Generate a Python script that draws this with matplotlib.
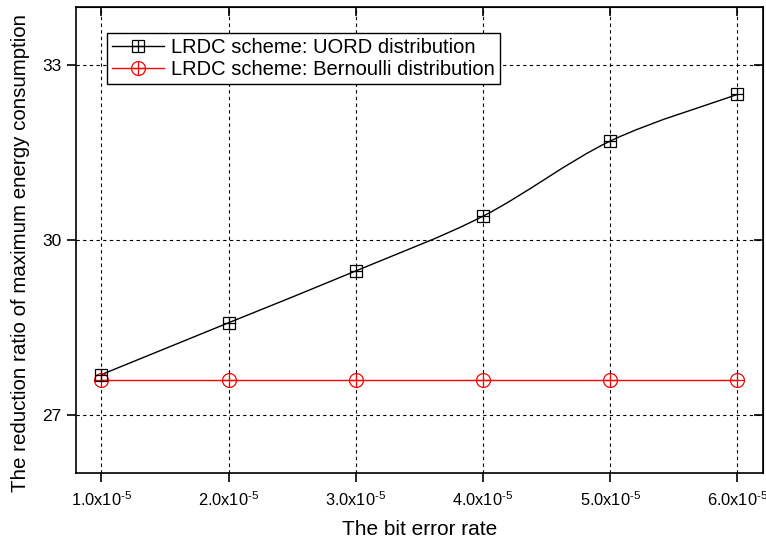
import matplotlib
matplotlib.use("Agg")
import matplotlib.pyplot as plt
from matplotlib.path import Path
from matplotlib.patches import PathPatch
from matplotlib.lines import Line2D
from matplotlib.legend_handler import HandlerTuple

plt.rcParams["font.family"] = ["Liberation Sans", "DejaVu Sans"]
plt.rcParams["mathtext.fontset"] = "custom"
plt.rcParams["mathtext.rm"] = "Liberation Sans"
plt.rcParams["mathtext.it"] = "Liberation Sans:italic"

# ============================================================
# === Data
# ============================================================

ber = [1e-5, 2e-5, 3e-5, 4e-5, 5e-5, 6e-5]
uord = [27.69, 28.58, 29.47, 30.41, 31.70, 32.50]
bernoulli = [27.60, 27.60, 27.60, 27.60, 27.60, 27.60]

x_tick_labels = ["1.0x10$^{\u20105}$", "2.0x10$^{\u20105}$", "3.0x10$^{\u20105}$",
                 "4.0x10$^{\u20105}$", "5.0x10$^{\u20105}$", "6.0x10$^{\u20105}$"]
y_ticks = [27, 30, 33]

label_uord = "LRDC scheme: UORD distribution"
label_bern = "LRDC scheme: Bernoulli distribution"


def smooth_path(xs, ys):
    # Catmull-Rom segments turned into cubic Bezier pieces
    pts = list(zip(xs, ys))
    n = len(pts)
    verts = [pts[0]]
    codes = [Path.MOVETO]
    for i in range(n - 1):
        p0 = pts[max(i - 1, 0)]
        p1 = pts[i]
        p2 = pts[i + 1]
        p3 = pts[min(i + 2, n - 1)]
        c1 = (p1[0] + (p2[0] - p0[0]) / 6, p1[1] + (p2[1] - p0[1]) / 6)
        c2 = (p2[0] - (p3[0] - p1[0]) / 6, p2[1] - (p3[1] - p1[1]) / 6)
        verts += [c1, c2, p2]
        codes += [Path.CURVE4] * 3
    return Path(verts, codes)


# ============================================================
# === Figure
# ============================================================

fig = plt.figure(figsize=(7.66, 5.45), dpi=100)
ax = fig.add_axes([0.099, 0.132, 0.897, 0.855])

ax.set_xlim(0.8e-5, 6.2e-5)
ax.set_ylim(26, 34)

# black curve (smooth) + square/plus markers
ax.add_patch(PathPatch(smooth_path(ber, uord), facecolor="none",
                       edgecolor="black", lw=1.0, zorder=3))
ax.plot(ber, uord, ls="none", marker="s", ms=8, mfc="none", mec="black",
        mew=0.9, zorder=4)
ax.plot(ber, uord, ls="none", marker="+", ms=8, mec="black", mew=0.9, zorder=4)

# red line + circle/plus markers
ax.plot(ber, bernoulli, color="red", lw=1.0, marker="o", ms=10, mfc="none",
        mec="red", mew=0.9, zorder=3)
ax.plot(ber, bernoulli, ls="none", marker="+", ms=10, mec="red", mew=0.9,
        zorder=3)

# axes styling
for sp in ax.spines.values():
    sp.set_linewidth(1.2)

ax.set_xticks(ber)
ax.set_xticklabels(x_tick_labels)
ax.set_yticks(y_ticks)
ax.tick_params(axis="both", direction="out", length=6.5, width=1.2, pad=4)
ax.tick_params(axis="x", labelsize=11.8, pad=6)
ax.tick_params(axis="y", labelsize=12.5)
ax.grid(True, color="black", lw=0.8, ls=(0, (3, 3)))

top = ax.secondary_xaxis("top")
top.set_xticks(ber)
top.tick_params(direction="in", length=6.5, width=1.2, labeltop=False)
right = ax.secondary_yaxis("right")
right.set_yticks(y_ticks)
right.tick_params(direction="in", length=6.5, width=1.2, labelright=False)

ax.set_xlabel("The bit error rate", fontsize=15, labelpad=8)
ax.set_ylabel("The reduction ratio of maximum energy consumption",
              fontsize=14.8)
ax.yaxis.set_label_coords(-0.066, 0.472)

# legend with overlaid marker pairs
h1 = (Line2D([], [], color="black", lw=1.0, marker="s", ms=8, mfc="none",
             mec="black", mew=0.9),
      Line2D([], [], ls="none", marker="+", ms=8, mec="black", mew=0.9))
h2 = (Line2D([], [], color="red", lw=1.0, marker="o", ms=10, mfc="none",
             mec="red", mew=0.9),
      Line2D([], [], ls="none", marker="+", ms=10, mec="red", mew=0.9))
leg = ax.legend([h1, h2], [label_uord, label_bern],
                handler_map={tuple: HandlerTuple(ndivide=1)},
                loc="upper left", bbox_to_anchor=(0.045, 0.945),
                fontsize=14.5, frameon=True, fancybox=False, framealpha=1,
                edgecolor="black", borderpad=0.25, handlelength=2.6,
                handletextpad=0.35, labelspacing=0.15, borderaxespad=0)
leg.get_frame().set_linewidth(1.0)

fig.savefig("out.png", dpi=100)
